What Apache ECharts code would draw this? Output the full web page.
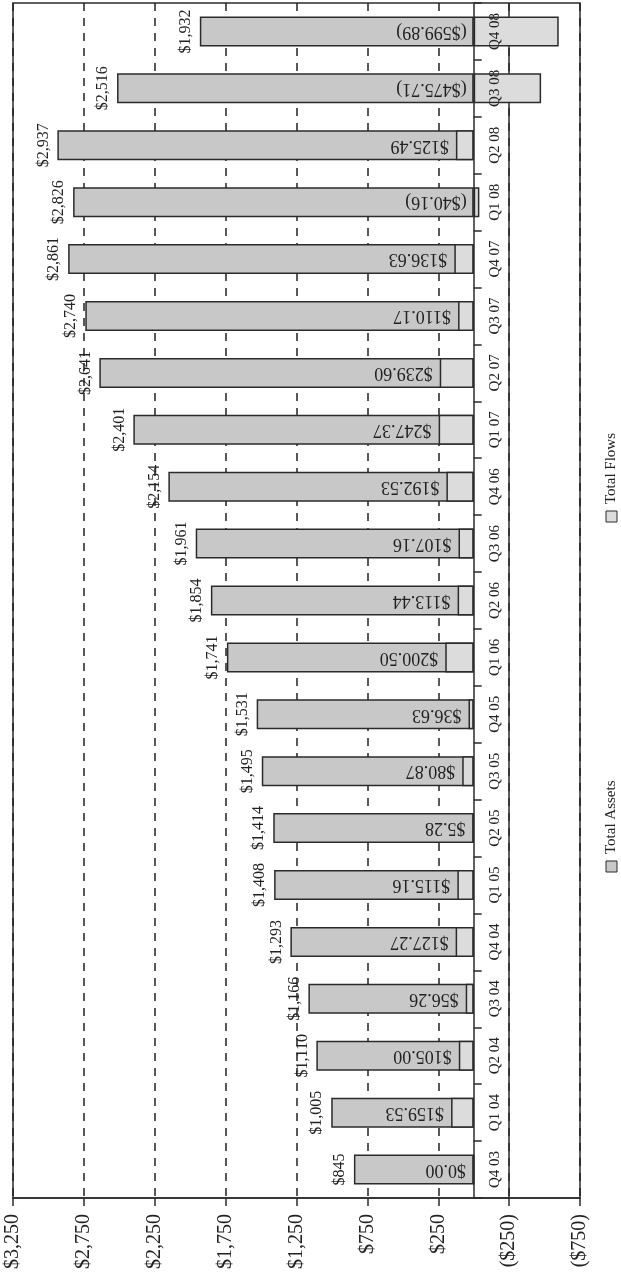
<!DOCTYPE html>
<html>
<head>
<meta charset="utf-8">
<script src="https://cdn.jsdelivr.net/npm/echarts@6/dist/echarts.min.js"></script>
<style>
  html, body { margin: 0; padding: 0; background: #fff; }
  #main { width: 621px; height: 1275px; }
</style>
</head>
<body>
<div id="main"></div>
<script>
// quarters, oldest first (drawn bottom to top)
var quarters = ['Q4 03', 'Q1 04', 'Q2 04', 'Q3 04', 'Q4 04', 'Q1 05', 'Q2 05', 'Q3 05', 'Q4 05',
  'Q1 06', 'Q2 06', 'Q3 06', 'Q4 06', 'Q1 07', 'Q2 07', 'Q3 07', 'Q4 07', 'Q1 08', 'Q2 08', 'Q3 08', 'Q4 08'];
var totalAssets = [845, 1005, 1110, 1166, 1293, 1408, 1414, 1495, 1531,
  1741, 1854, 1961, 2154, 2401, 2641, 2740, 2861, 2826, 2937, 2516, 1932];
var totalFlows = [0.00, 159.53, 105.00, 56.26, 127.27, 115.16, 5.28, 80.87, 36.63,
  200.50, 113.44, 107.16, 192.53, 247.37, 239.60, 110.17, 136.63, -40.16, 125.49, -475.71, -599.89];
// value axis: ($750) .. $3,250 every $500
var axisMin = -750;
var axisMax = 3250;
var axisStep = 500;
var solidLineAt = -250;

var serif = '"Liberation Serif", "Times New Roman", serif';
var ink = '#2b2b2b';
var gridRight = 41;

function money(v) {
  var s = Math.abs(v).toFixed(0).replace(/\B(?=(\d{3})+(?!\d))/g, ',');
  return v < 0 ? '($' + s + ')' : '$' + s;
}
function cents(v) {
  var s = Math.abs(v).toFixed(2);
  return v < 0 ? '($' + s + ')' : '$' + s;
}

var chart = echarts.init(document.getElementById('main'));

chart.setOption({
  animation: false,
  grid: {
    left: 13, right: gridRight, top: 3, bottom: 77,
    show: true, borderColor: ink, borderWidth: 1.5,
    outerBoundsMode: 'none'
  },
  xAxis: {
    type: 'value',
    inverse: true,
    min: axisMin,
    max: axisMax,
    interval: axisStep,
    position: 'bottom',
    axisLine: { show: true, onZero: false, lineStyle: { color: ink, width: 1.5 } },
    axisTick: { show: true, length: 8, lineStyle: { color: ink, width: 1.5 } },
    axisLabel: {
      rotate: 90, margin: 16, fontSize: 20, fontFamily: serif, color: '#222',
      formatter: function (v) { return money(v); }
    },
    splitLine: { show: true, lineStyle: { type: [8, 7], color: '#222', width: 1.5 } }
  },
  yAxis: {
    type: 'category',
    data: quarters,
    position: 'right',
    z: 5,
    axisLine: { show: true, onZero: false, lineStyle: { color: ink, width: 1.5 } },
    axisTick: { show: true, length: 8, lineStyle: { color: ink, width: 1.5 } },
    axisLabel: { rotate: 90, margin: 14, fontSize: 15, fontFamily: serif, color: '#222' },
    splitLine: { show: false }
  },
  series: [
    {
      name: 'Total Assets',
      type: 'bar',
      data: totalAssets,
      barWidth: 30,
      barGap: '-100%',
      itemStyle: { color: '#c8c8c8', borderColor: ink, borderWidth: 1.5 },
      label: {
        show: true, position: 'left', distance: 6, rotate: 90,
        align: 'center', verticalAlign: 'bottom',
        fontSize: 16, fontFamily: serif, color: '#222',
        formatter: function (p) { return money(p.value); }
      },
      markLine: {
        silent: true,
        symbol: 'none',
        z: 1,
        label: { show: false },
        lineStyle: { color: ink, type: 'solid', width: 1.5 },
        data: [{ xAxis: solidLineAt }]
      }
    },
    {
      name: 'Total Flows',
      type: 'bar',
      data: totalFlows,
      barWidth: 30,
      barGap: '-100%',
      itemStyle: { color: '#dcdcdc', borderColor: ink, borderWidth: 1.5 },
      label: {
        show: true, position: 'left', distance: 7, rotate: 180,
        align: 'left', verticalAlign: 'middle',
        fontSize: 18, fontFamily: serif, color: '#222',
        formatter: function (p) { return cents(p.value); }
      }
    }
  ],
  // legend drawn by hand, it reads bottom-to-top like the rest of the page
  graphic: [
    { type: 'rect', shape: { x: 606, y: 861, width: 11, height: 11 },
      style: { fill: '#c8c8c8', stroke: ink, lineWidth: 1 } },
    { type: 'text', x: 611.5, y: 854, rotation: Math.PI / 2,
      style: { text: 'Total Assets', fontSize: 15, fontFamily: serif, fill: '#222', align: 'left', verticalAlign: 'middle' } },
    { type: 'rect', shape: { x: 606, y: 511, width: 11, height: 11 },
      style: { fill: '#dcdcdc', stroke: ink, lineWidth: 1 } },
    { type: 'text', x: 611.5, y: 504, rotation: Math.PI / 2,
      style: { text: 'Total Flows', fontSize: 15, fontFamily: serif, fill: '#222', align: 'left', verticalAlign: 'middle' } }
  ]
});

// move the quarter axis onto the $0 line, labels follow it
var zeroX = chart.convertToPixel({ xAxisIndex: 0 }, 0);
var rightEdge = chart.getWidth() - gridRight;
chart.setOption({ yAxis: { offset: zeroX - rightEdge } });
</script>
</body>
</html>
